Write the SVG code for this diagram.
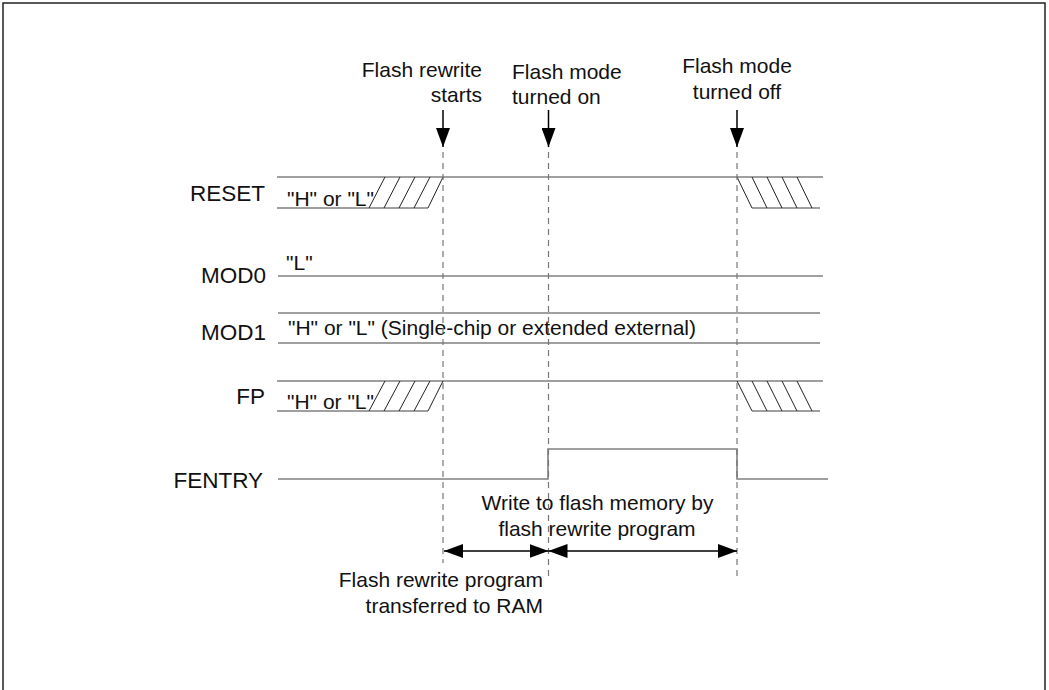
<svg xmlns="http://www.w3.org/2000/svg" width="1049" height="690" viewBox="0 0 1049 690">
<style>
text{font-family:"Liberation Sans",Arial,sans-serif;font-size:21px;fill:#111}
.lbl{font-size:22.5px;text-anchor:end}
.sig{stroke:#808080;stroke-width:1.6;fill:none}
.hatch{stroke:#222;stroke-width:1;fill:none}
.dash{stroke:#777;stroke-width:1.2;stroke-dasharray:6 5;fill:none}
.dim{stroke:#000;stroke-width:1.5;fill:none}
.arr{stroke:#000;stroke-width:1.5;fill:none}
</style>
<defs>
<marker id="ah" viewBox="0 0 19 14" refX="19" refY="7" markerWidth="19" markerHeight="14" markerUnits="userSpaceOnUse" orient="auto-start-reverse">
<path d="M0,0 L19,7 L0,14 Z" fill="#000"/>
</marker>
<marker id="vh" viewBox="0 0 19 14" refX="19" refY="7" markerWidth="19" markerHeight="14" markerUnits="userSpaceOnUse" orient="auto">
<path d="M0,0 L19,7 L0,14 Z" fill="#000"/>
</marker>
</defs>
<rect width="1049" height="690" fill="#fff"/>
<path d="M3,690 V3 H1045 V690" fill="none" stroke="#222" stroke-width="1.5"/>

<g id="event-labels">
<text x="482" y="77" text-anchor="end">Flash rewrite</text>
<text x="482" y="102" text-anchor="end">starts</text>
<text x="512" y="79">Flash mode</text>
<text x="512" y="104">turned on</text>
<text x="737" y="73" text-anchor="middle">Flash mode</text>
<text x="737" y="99" text-anchor="middle">turned off</text>
</g>

<g id="RESET">
<text class="lbl" x="265" y="201">RESET</text>
<path class="sig" d="M277,177 H823 M277,208 H428 M752,208 H820"/>
<path class="hatch" d="M369,208 L385,177 M384,208 L400,177 M399,208 L415,177 M414,208 L430,177 M428,208 L443,177"/>
<path class="hatch" d="M737,177 L752,208 M752,177 L767,208 M767,177 L782,208 M782,177 L797,208 M797,177 L812,208"/>
<text x="287" y="206">"H" or "L"</text>
</g>

<g id="MOD0">
<text class="lbl" x="266" y="283">MOD0</text>
<path class="sig" d="M278,276 H823"/>
<text x="286" y="270">"L"</text>
</g>

<g id="MOD1">
<text class="lbl" x="266" y="340">MOD1</text>
<path class="sig" d="M278,313 H820 M278,343 H820"/>
<text x="288" y="335">"H" or "L" (Single-chip or extended external)</text>
</g>

<g id="FP">
<text class="lbl" x="265" y="404">FP</text>
<path class="sig" d="M277,381 H823 M277,411 H428 M752,411 H820"/>
<path class="hatch" d="M369,411 L385,381 M384,411 L400,381 M399,411 L415,381 M414,411 L430,381 M428,411 L443,381"/>
<path class="hatch" d="M737,381 L752,411 M752,381 L767,411 M767,381 L782,411 M782,381 L797,411 M797,381 L812,411"/>
<text x="287" y="409">"H" or "L"</text>
</g>

<g id="FENTRY">
<text class="lbl" x="263" y="488">FENTRY</text>
<path class="sig" d="M278,479 H548 V449 H737 V479 H828"/>
</g>

<g id="period-labels">
<text x="597.5" y="510" text-anchor="middle">Write to flash memory by</text>
<text x="597" y="536" text-anchor="middle">flash rewrite program</text>
<text x="543" y="587" text-anchor="end">Flash rewrite program</text>
<text x="543" y="613" text-anchor="end">transferred to RAM</text>
</g>

<g id="connectors">
<path class="dash" d="M443,152 V563"/>
<path class="dash" d="M548.5,152 V576"/>
<path class="dash" d="M737,152 V577"/>
<path class="arr" d="M443,110 V147" marker-end="url(#vh)"/>
<path class="arr" d="M548.5,110 V147" marker-end="url(#vh)"/>
<path class="arr" d="M737,110 V147" marker-end="url(#vh)"/>
<path class="dim" d="M444,551 H548.5" marker-start="url(#ah)" marker-end="url(#ah)"/>
<path class="dim" d="M548.5,551 H737" marker-start="url(#ah)" marker-end="url(#ah)"/>
</g>
</svg>
